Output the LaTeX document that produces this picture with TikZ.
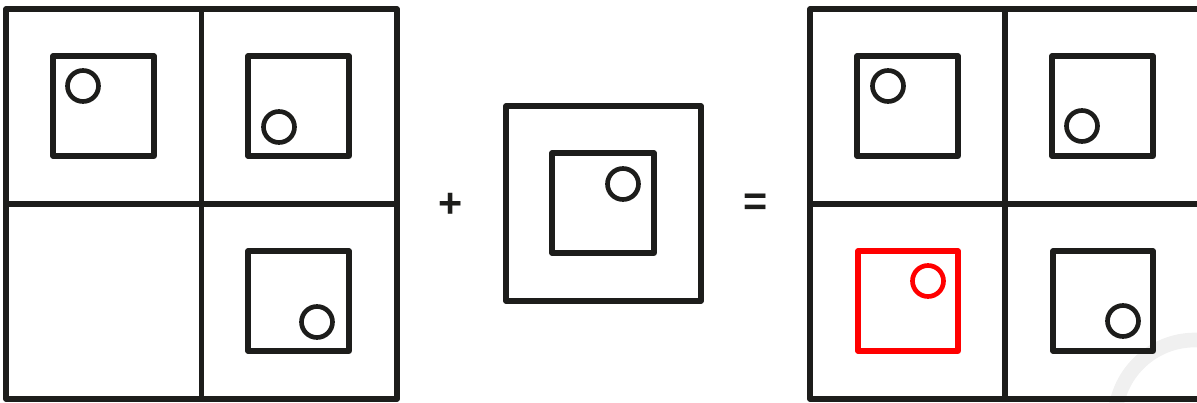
\documentclass[tikz,border=0pt]{standalone}
\usepackage{fontspec}
\setmainfont{Liberation Sans}
\definecolor{ink}{RGB}{29,29,27}
\begin{document}
\begin{tikzpicture}[x=0.75pt,y=-0.75pt,
  frame/.style={draw=ink, line width=4pt, line join=round},
  inner/.style={draw=ink, line width=3.8pt, line join=round},
  dot/.style={draw=ink, line width=3.5pt},
  redbox/.style={draw=red, line width=3.8pt, line join=round},
  reddot/.style={draw=red, line width=3.5pt},
  sign/.style={font=\bfseries\fontsize{31}{31}\selectfont, text=ink, inner sep=0pt}]
\useasboundingbox (0,0) rectangle (1197,403);
\clip (0,0) rectangle (1197,403);
% faint background arc
\draw[black!6, line width=11pt] (1195,420) circle (80);
% left grid
\draw[frame] (6,9) rectangle (397,399);
\draw[frame] (201.5,9) -- (201.5,399);
\draw[frame] (6,204) -- (397,204);
\draw[inner] (53,56) rectangle (154,156);
\draw[dot] (83,86) circle (15.5);
\draw[inner] (248,56) rectangle (349,156);
\draw[dot] (279,127) circle (15.5);
\draw[inner] (248,251) rectangle (349,351);
\draw[dot] (317,322) circle (15.5);
% plus
\node[sign] (plus) at (451,205) {+};
% middle
\draw[frame] (506,106) rectangle (701,301);
\draw[inner] (552,153) rectangle (654,253);
\draw[dot] (623,184) circle (15.5);
% equals
\node[sign] (eq) at (756,205) {=};
% right grid
\draw[frame] (810,9) rectangle (1202,399);
\draw[frame] (1005,9) -- (1005,399);
\draw[frame] (810,204) -- (1202,204);
\draw[inner] (857,56) rectangle (958,156);
\draw[dot] (888,86) circle (15.5);
\draw[inner] (1052,56) rectangle (1153,156);
\draw[dot] (1082,126) circle (15.5);
\draw[redbox] (858,251) rectangle (958,351);
\draw[reddot] (928,281) circle (15.5);
\draw[inner] (1053,251) rectangle (1153,351);
\draw[dot] (1123,321) circle (15.5);
\end{tikzpicture}
\end{document}
